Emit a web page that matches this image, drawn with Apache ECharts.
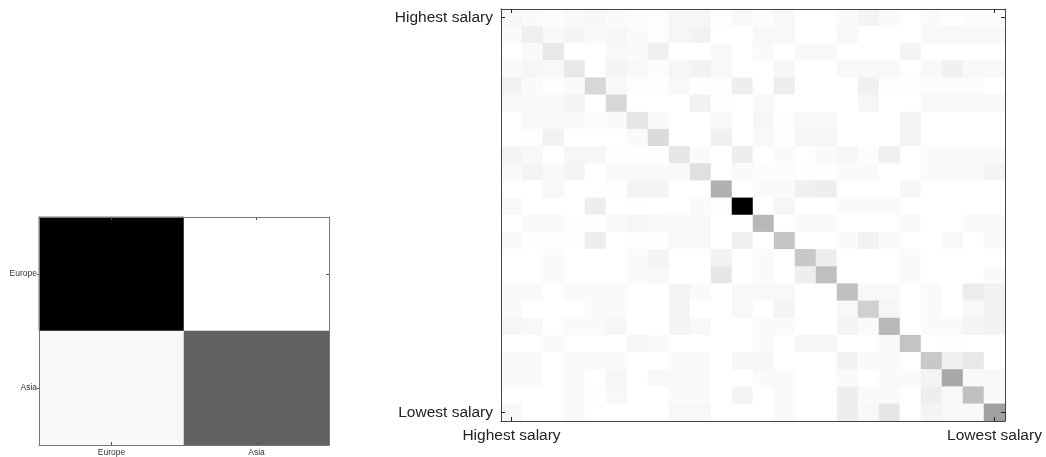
<!DOCTYPE html>
<html>
<head>
<meta charset="utf-8">
<script src="https://cdn.jsdelivr.net/npm/echarts@6/dist/echarts.min.js"></script>
<style>
  html, body { margin: 0; padding: 0; background: #fff; }
  #chart { width: 1046px; height: 457px; }
</style>
</head>
<body>
<div id="chart"></div>
<script>
// Region confusion matrix (rows: actual, columns: predicted), darkness 0..255
const regions = ['Europe', 'Asia'];
const regionMatrix = [
  [255, 0],
  [7, 158]
];

// Salary-band confusion matrix, 24 bands from highest to lowest, darkness 0..255
const salaryBands = ['1','2','3','4','5','6','7','8','9','10','11','12',
                     '13','14','15','16','17','18','19','20','21','22','23','24'];
const salaryEndLabels = ['Highest salary', 'Lowest salary'];
const salaryMatrix = [
  [8,5,3,6,8,5,3,2, 9,9,1,7,3,7,0,0, 5,11,5,0,5,1,3,3],
  [5,16,6,10,6,8,5,2, 9,13,0,0,7,7,0,0, 7,0,0,0,7,7,7,7],
  [0,5,23,0,0,7,5,15, 0,0,7,0,5,0,7,7, 0,0,0,11,0,0,0,0],
  [5,9,7,23,0,11,7,3, 9,13,7,0,0,9,0,0, 7,7,7,0,7,15,7,7],
  [13,5,1,5,40,7,1,1, 7,1,1,17,0,17,0,0, 0,15,1,1,3,3,3,0],
  [7,5,7,11,0,40,0,0, 0,13,1,0,7,0,0,0, 0,9,0,0,7,7,7,7],
  [0,7,7,7,3,5,25,5, 0,0,7,0,9,1,7,7, 0,0,0,11,0,0,0,0],
  [0,1,13,0,0,0,5,36, 0,0,15,0,7,1,9,9, 0,0,0,11,0,0,0,0],
  [11,7,0,9,9,1,1,1, 25,5,0,17,0,5,0,5, 9,3,15,0,5,5,5,5],
  [5,11,7,11,0,7,7,5, 5,31,0,5,3,3,1,1, 5,5,0,0,5,5,5,11],
  [0,0,7,0,0,1,11,11, 0,0,79,0,5,5,15,17, 0,0,0,9,0,0,0,0],
  [7,0,0,0,17,0,1,0, 0,5,1,255,0,9,0,0, 5,5,5,0,0,0,0,0],
  [0,5,5,1,1,5,9,5, 7,7,0,0,71,0,5,5, 0,0,0,5,0,0,5,5],
  [7,1,1,1,17,0,1,1, 7,7,0,15,0,59,0,0, 5,13,5,0,0,7,0,5],
  [0,0,5,0,0,0,5,11, 0,0,13,0,5,0,55,17, 0,0,0,5,0,0,0,0],
  [0,0,5,0,0,0,5,7, 0,0,25,0,5,0,17,63, 0,0,0,5,0,0,0,5],
  [5,5,0,5,5,5,0,0, 11,5,0,7,7,7,0,0, 63,7,7,0,5,0,19,13],
  [5,0,0,0,5,5,0,0, 11,0,0,7,0,11,0,0, 7,47,9,0,5,0,7,13],
  [9,7,0,5,5,9,0,0, 11,7,0,0,5,5,0,0, 11,5,71,0,5,5,11,13],
  [0,0,5,0,0,0,9,5, 0,0,0,0,5,0,9,9, 0,0,5,59,0,1,0,0],
  [5,5,0,5,5,5,0,0, 5,5,0,9,9,0,0,0, 13,5,5,0,55,15,23,0],
  [5,5,0,5,0,9,0,7, 5,5,0,0,5,5,0,0, 5,0,5,5,11,87,5,7],
  [0,0,0,5,1,7,0,0, 5,5,0,11,0,5,0,0, 17,5,5,0,17,7,63,5],
  [7,0,0,5,0,0,0,0, 7,7,0,0,0,5,0,0, 17,7,25,0,11,7,7,95]
];

function toCells(matrix) {
  const cells = [];
  matrix.forEach((row, r) => row.forEach((v, c) => cells.push([c, r, v])));
  return cells;
}

const lastBand = salaryBands.length - 1;
const isEnd = (i) => i === 0 || i === lastBand;
const endLabel = (value, i) => (i === 0 ? salaryEndLabels[0] : salaryEndLabels[1]);

const smallFont = { fontFamily: 'Liberation Sans', fontSize: 8.5, color: '#333' };
const bigFont = { fontFamily: 'Liberation Sans', fontSize: 15.5, color: '#222' };

// axes sit above the cells so the frame stays visible on every side
function regionAxis(extra) {
  return Object.assign({
    type: 'category',
    data: regions,
    gridIndex: 0,
    z: 10,
    axisLine: { show: true, lineStyle: { color: '#777', width: 1 } },
    axisTick: { show: true, alignWithLabel: true, inside: true, length: 3, lineStyle: { color: '#555' } },
    splitLine: { show: false },
    axisLabel: Object.assign({ show: true, margin: 4 }, smallFont)
  }, extra);
}

function salaryAxis(extra) {
  return Object.assign({
    type: 'category',
    data: salaryBands,
    gridIndex: 1,
    z: 10,
    axisLine: { show: true, lineStyle: { color: '#444', width: 1 } },
    axisTick: { show: true, alignWithLabel: true, inside: true, length: 4, interval: isEnd, lineStyle: { color: '#222' } },
    splitLine: { show: false },
    axisLabel: Object.assign({ show: true, interval: isEnd, formatter: endLabel }, bigFont)
  }, extra);
}

const chart = echarts.init(document.getElementById('chart'), null, { renderer: 'canvas' });

chart.setOption({
  backgroundColor: '#ffffff',
  animation: false,
  grid: [
    { left: 39, top: 217, width: 290, height: 230 },
    { left: 501, top: 9, width: 504, height: 412 }
  ],
  xAxis: [
    regionAxis({ position: 'bottom', axisLabel: Object.assign({ margin: 3 }, smallFont) }),
    regionAxis({ position: 'top', axisLabel: { show: false } }),
    salaryAxis({ position: 'bottom', axisLabel: Object.assign({ interval: isEnd, formatter: endLabel, margin: 7 }, bigFont) }),
    salaryAxis({ position: 'top', axisLabel: { show: false } })
  ],
  yAxis: [
    regionAxis({ position: 'left', inverse: true,
      axisTick: { show: true, alignWithLabel: true, inside: false, length: 2, lineStyle: { color: '#555' } },
      axisLabel: Object.assign({ margin: 2 }, smallFont) }),
    regionAxis({ position: 'right', inverse: true, axisLabel: { show: false } }),
    salaryAxis({ position: 'left', inverse: true, axisLabel: Object.assign({ interval: isEnd, formatter: endLabel, margin: 8 }, bigFont) }),
    salaryAxis({ position: 'right', inverse: true, axisLabel: { show: false } })
  ],
  visualMap: [
    { show: false, seriesIndex: 0, min: 0, max: 255, inRange: { color: ['#ffffff', '#000000'] } },
    { show: false, seriesIndex: 1, min: 0, max: 255, inRange: { color: ['#ffffff', '#000000'] } }
  ],
  series: [
    {
      name: 'Region',
      type: 'heatmap',
      xAxisIndex: 0,
      yAxisIndex: 0,
      data: toCells(regionMatrix),
      itemStyle: { borderWidth: 0 },
      emphasis: { disabled: true }
    },
    {
      name: 'Salary',
      type: 'heatmap',
      xAxisIndex: 2,
      yAxisIndex: 2,
      data: toCells(salaryMatrix),
      itemStyle: { borderWidth: 0 },
      emphasis: { disabled: true }
    }
  ]
});
</script>
</body>
</html>
